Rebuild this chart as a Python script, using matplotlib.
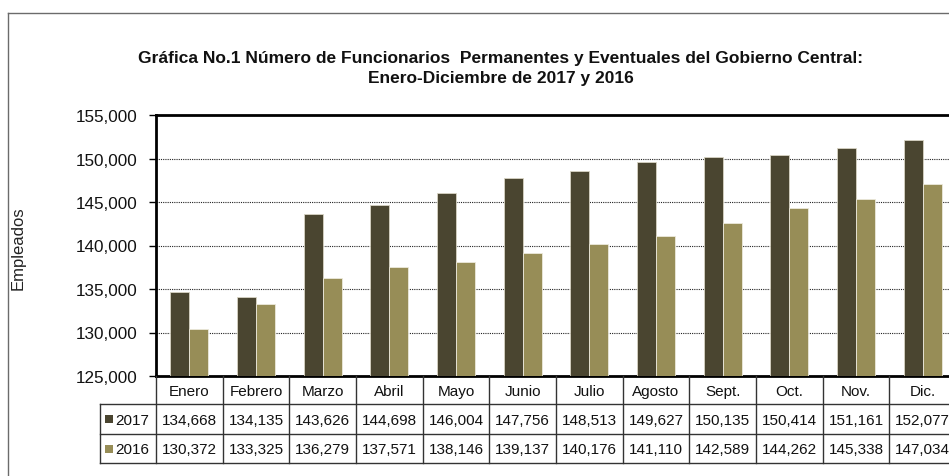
import matplotlib
matplotlib.use('Agg')
import matplotlib.pyplot as plt
from matplotlib.transforms import blended_transform_factory, Affine2D
from matplotlib.lines import Line2D
from matplotlib.patches import Rectangle

months = ['Enero', 'Febrero', 'Marzo', 'Abril', 'Mayo', 'Junio', 'Julio',
          'Agosto', 'Sept.', 'Oct.', 'Nov.', 'Dic.']
series_labels = ['2017', '2016']
values_2017 = [134668, 134135, 143626, 144698, 146004, 147756, 148513,
               149627, 150135, 150414, 151161, 152077]
values_2016 = [130372, 133325, 136279, 137571, 138146, 139137, 140176,
               141110, 142589, 144262, 145338, 147034]
yticks = [125000, 130000, 135000, 140000, 145000, 150000, 155000]
title_text = ('Gráfica No.1 Número de Funcionarios  Permanentes y Eventuales del Gobierno Central:\n'
              'Enero-Diciembre de 2017 y 2016')
ylabel_text = 'Empleados'

color_2017 = '#4a4530'
color_2016 = '#978d57'

plt.rcParams['font.family'] = ['Liberation Sans', 'DejaVu Sans']

W, H = 949, 477
fig = plt.figure(figsize=(W / 100, H / 100), dpi=100)
pix = Affine2D().scale(1 / 100, -1 / 100).translate(0, H / 100) + fig.dpi_scale_trans

# outer frame
fig.add_artist(Line2D([8, W], [14, 14], transform=pix, color='#6b6b6b', lw=1.0))
fig.add_artist(Line2D([8, 8], [14, H], transform=pix, color='#6b6b6b', lw=1.0))

left, top, bottom = 156, 116, 377
ax = fig.add_axes([left / W, 1 - bottom / H, 800 / W, (bottom - top) / H])

n = len(months)
x = list(range(n))
bw = 0.285
ax.bar([i - bw / 2 for i in x], values_2017, width=bw, color=color_2017,
       edgecolor='#d8d4c4', linewidth=0.6, zorder=3)
ax.bar([i + bw / 2 for i in x], values_2016, width=bw, color=color_2016,
       edgecolor='#ece9dc', linewidth=0.6, zorder=3)

ax.set_xlim(-0.5, n - 0.5)
ax.set_ylim(yticks[0], yticks[-1])
ax.set_yticks(yticks)
ax.set_yticklabels([f'{v:,}' for v in yticks], fontsize=12.3, color='#111111')
ax.tick_params(axis='y', length=5, width=1, pad=8, direction='out')
ax.set_xticks([])
ax.yaxis.grid(True, linestyle=(0, (1, 1)), color='#222222', linewidth=0.8, zorder=0)
for s in ['top', 'left', 'bottom']:
    ax.spines[s].set_linewidth(2.0)
    ax.spines[s].set_color('black')
ax.spines['right'].set_visible(False)

fig.text(18 / W, 1 - 248 / H, ylabel_text, rotation=90, ha='center', va='center',
         fontsize=12, color='#222222')

fig.text(501 / W, 1 - 68.5 / H, title_text, ha='center', va='center', fontsize=12.5,
         fontweight='bold', linespacing=1.35, color='#111111')

# data table
tr = blended_transform_factory(ax.transData, pix)
rows_y = [377, 405, 435, 464]
lc = '#333333'
tlw = 1.0
for i in range(n + 1):
    xb = i - 0.5
    fig.add_artist(Line2D([xb, xb], [rows_y[0], rows_y[3]], transform=tr, color=lc, lw=tlw))
for yy in rows_y[1:]:
    fig.add_artist(Line2D([100, W + 20], [yy, yy], transform=pix, color=lc, lw=tlw))
fig.add_artist(Line2D([100, 100], [rows_y[1], rows_y[3]], transform=pix, color=lc, lw=tlw))

for i, m in enumerate(months):
    fig.text(i, (rows_y[0] + rows_y[1]) / 2 + 1, m, transform=tr, ha='center', va='center',
             fontsize=11, color='#111111')
for r, (lab, vals, col) in enumerate([(series_labels[0], values_2017, color_2017),
                                      (series_labels[1], values_2016, color_2016)]):
    yc = (rows_y[r + 1] + rows_y[r + 2]) / 2
    for i, v in enumerate(vals):
        fig.text(i, yc + 1, f'{v:,}', transform=tr, ha='center', va='center',
                 fontsize=11, color='#111111')
    fig.add_artist(Rectangle((105, yc - 4), 8, 8, transform=pix, facecolor=col, edgecolor='none'))
    fig.text(115, yc + 1, lab, transform=pix, ha='left', va='center', fontsize=11, color='#111111')

fig.savefig('out.png', dpi=100)
